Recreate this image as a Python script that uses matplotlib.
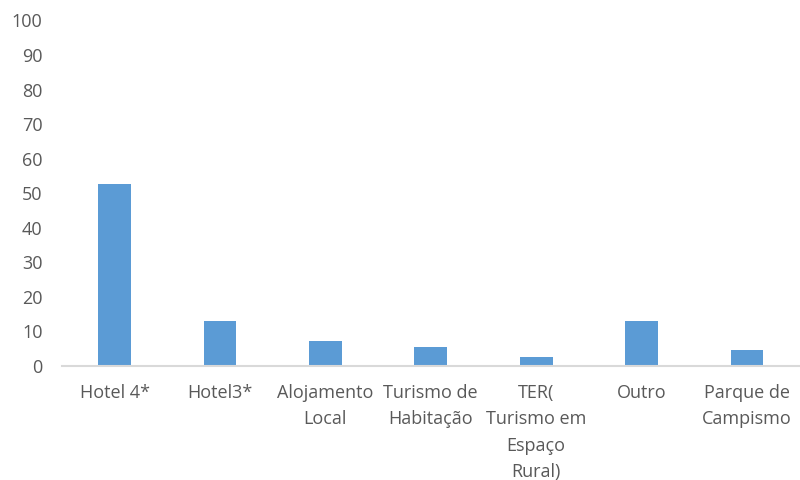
import matplotlib
matplotlib.use("Agg")
from matplotlib import pyplot as plt

categories = ["Hotel 4*", "Hotel3*", "Alojamento\nLocal", "Turismo de\nHabitação",
              "TER(\nTurismo em\nEspaço\nRural)", "Outro", "Parque de\nCampismo"]
values = [52.8, 13.0, 7.2, 5.6, 2.7, 13.0, 4.6]
yticks = list(range(0, 101, 10))

plt.rcParams['font.family'] = ['Open Sans', 'DejaVu Sans']

fig = plt.figure(figsize=(8, 4.8), dpi=100)
ax = fig.add_axes([0.0775, 0.2375, 0.922, 0.72])

x = list(range(len(categories)))
ax.bar(x, values, width=0.31, color="#5b9bd5", zorder=2)

ax.set_xlim(-0.5, len(categories) - 0.5)
ax.set_ylim(0, 100)
ax.set_yticks(yticks)
ax.set_xticks(x)
ax.set_xticklabels(categories, linespacing=1.6)

for s in ["top", "right", "left"]:
    ax.spines[s].set_visible(False)
ax.spines["bottom"].set_color("#d9d9d9")
ax.spines["bottom"].set_linewidth(1.5)

ax.tick_params(axis="both", length=0, labelsize=13, colors="#595959")
ax.tick_params(axis="y", pad=14)
ax.tick_params(axis="x", pad=13)

fig.savefig("out.png", dpi=100)
